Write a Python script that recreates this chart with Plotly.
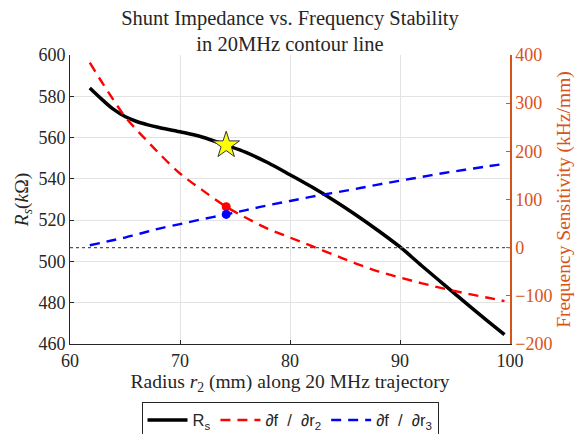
import plotly.graph_objects as go

# Radius r2 (mm)
r2 = [61.8, 63, 64, 65, 66, 67, 68, 70, 72, 74.2, 76, 78, 80, 82, 84, 86, 88, 90, 92, 94, 96, 98, 99.5]
# Shunt impedance Rs (kOhm)
rs = [584.0, 578.0, 573.5, 570.2, 567.9, 566.3, 565.0, 562.8, 560.3, 556.3, 552.8, 547.8, 542.0, 536.0, 529.5, 522.5, 515.0, 507.0, 497.8, 488.8, 479.8, 471.0, 464.5]
# df/dr2 (kHz/mm)
dfdr2 = [384, 340, 305, 272, 246, 222, 198, 154, 120, 85, 62, 39, 21, 3, -15, -33, -49, -62, -74, -85, -95, -104, -111]
# df/dr3 (kHz/mm)
dfdr3 = [5, 11, 16, 21, 27, 33, 39, 49, 59, 69, 78, 88, 97, 106, 114, 122, 131, 139, 147, 155, 162, 169, 174]

# operating point
op_r2 = [74.2]
op_rs = [556.3]
op_dfdr2 = [85]
op_dfdr3 = [69]

zero_x = [60, 100]
zero_y = [0, 0]

left_ticks = [460, 480, 500, 520, 540, 560, 580, 600]
right_ticks = [-200, -100, 0, 100, 200, 300, 400]
x_ticks = [60, 70, 80, 90, 100]

ORANGE = "#D95319"
SERIF = "Liberation Serif, Times New Roman, serif"
SANS = "Liberation Sans, Arial, sans-serif"

W, H = 577, 426

fig = go.Figure()

fig.add_trace(go.Scatter(x=zero_x, y=zero_y, yaxis="y2", mode="lines",
                         line=dict(color="#555555", width=1.2, dash="dot"),
                         showlegend=False, hoverinfo="skip"))
fig.add_trace(go.Scatter(x=r2, y=rs, mode="lines", name="R<sub>s</sub>",
                         line=dict(color="black", width=3.5, shape="spline", smoothing=1)))
fig.add_trace(go.Scatter(x=r2, y=dfdr2, yaxis="y2", mode="lines",
                         name="\u2202f  /  \u2202r<sub>2</sub>",
                         line=dict(color="#FF0000", width=2.4, dash="10px,7px", shape="spline")))
fig.add_trace(go.Scatter(x=r2, y=dfdr3, yaxis="y2", mode="lines",
                         name="\u2202f  /  \u2202r<sub>3</sub>",
                         line=dict(color="#0000FF", width=2.4, dash="10px,7px", shape="spline")))
fig.add_trace(go.Scatter(x=op_r2, y=op_dfdr2, yaxis="y2", mode="markers",
                         marker=dict(color="#FF0000", size=9), showlegend=False))
fig.add_trace(go.Scatter(x=op_r2, y=op_dfdr3, yaxis="y2", mode="markers",
                         marker=dict(color="#0000FF", size=9), showlegend=False))
fig.add_trace(go.Scatter(x=op_r2, y=op_rs, mode="markers",
                         marker=dict(symbol="star", color="#FFFF00", size=20,
                                     line=dict(color="#333333", width=1)),
                         showlegend=False))

fig.update_layout(
    width=W, height=H,
    margin=dict(l=62, r=75, t=47, b=90, autoexpand=False),
    paper_bgcolor="white", plot_bgcolor="white",
    font=dict(family=SERIF, size=18, color="#262626"),
    title=dict(text="Shunt Impedance vs. Frequency Stability<br>in 20MHz contour line",
               x=0.5, xref="paper", xanchor="center",
               y=1 - 16.5 / H, yref="container", yanchor="middle",
               font=dict(family=SERIF, size=20.5, color="#262626")),
    xaxis=dict(range=[60, 100], tickvals=x_ticks, showgrid=True, gridcolor="#E3E3E3",
               showline=True, linecolor="#262626", linewidth=1, ticks="inside", ticklen=4,
               tickcolor="#262626", zeroline=False, automargin=False,
               title=dict(text="Radius <i>r</i><sub>2</sub> (mm) along 20 MHz trajectory",
                          font=dict(size=19.5), standoff=4),
               tickfont=dict(size=18)),
    yaxis=dict(range=[460, 600], tickvals=left_ticks, showgrid=True, gridcolor="#E3E3E3",
               showline=True, linecolor="#262626", linewidth=1, ticks="inside", ticklen=4,
               tickcolor="#262626", zeroline=False, automargin=False,
               title=dict(text="<i>R</i><sub><i>s</i></sub>(<i>k</i>\u03a9)", font=dict(size=19.5),
                          standoff=4),
               tickfont=dict(size=18)),
    yaxis2=dict(range=[-200, 400], tickvals=right_ticks, overlaying="y", side="right",
                showgrid=False, showline=True, linecolor=ORANGE, linewidth=1.5,
                ticks="inside", ticklen=4, tickcolor=ORANGE, zeroline=False, automargin=False,
                tickfont=dict(size=18, color=ORANGE),
                title=dict(text="Frequency Sensitivity (kHz/mm)",
                           font=dict(size=19.5, color=ORANGE), standoff=4)),
    legend=dict(orientation="h", x=0.5, xanchor="center", y=-0.2, yanchor="top",
                bordercolor="#262626", borderwidth=1, bgcolor="white",
                font=dict(family=SANS, size=16.5, color="#262626"),
                itemwidth=40, tracegroupgap=0, valign="middle"),
    showlegend=True,
)

fig.write_html("out.html")
